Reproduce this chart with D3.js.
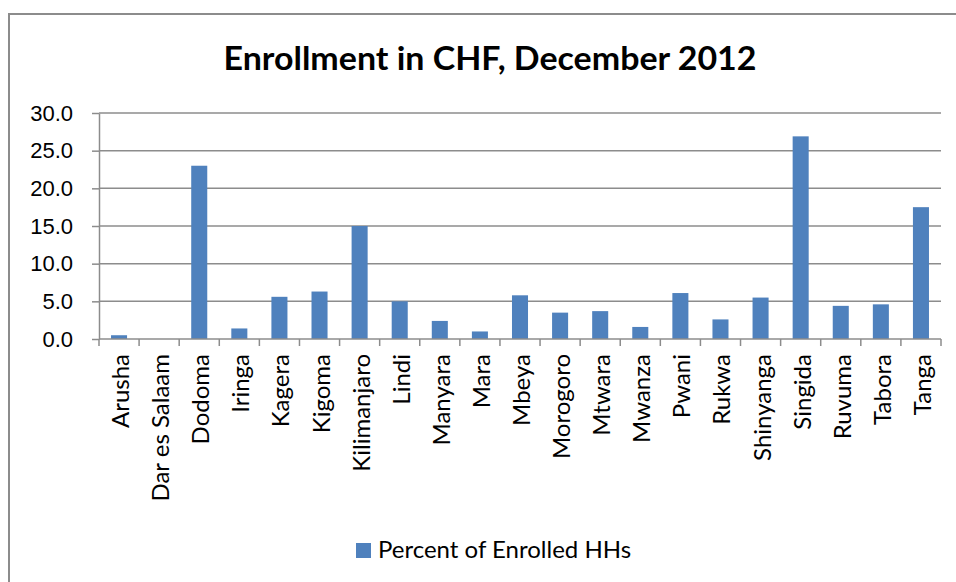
<!DOCTYPE html>
<html>
<head>
    <meta charset="utf-8">
    <title>Enrollment in CHF</title>
    <script src="https://cdn.jsdelivr.net/npm/d3@7"></script>
    <style>
        body { margin: 0; background: #fff; }
        svg { display: block; font-family: Lato, "Open Sans", sans-serif; }
        .grid line { stroke: #8c8c8c; stroke-width: 1.5px; }
        .axis path, .axis line { stroke: #8c8c8c; stroke-width: 1.5px; }
        .axis text { fill: #000; font-size: 22px; }
        .axis text.cat { font-size: 24px; }
    </style>
</head>
<body>
<svg id="chart" width="956" height="582"></svg>
<script>
    // data
    var regions = ["Arusha", "Dar es Salaam", "Dodoma", "Iringa", "Kagera", "Kigoma",
        "Kilimanjaro", "Lindi", "Manyara", "Mara", "Mbeya", "Morogoro", "Mtwara",
        "Mwanza", "Pwani", "Rukwa", "Shinyanga", "Singida", "Ruvuma", "Tabora", "Tanga"];
    var percentEnrolled = [0.5, 0, 23.0, 1.4, 5.6, 6.3, 15.0, 5.0, 2.4, 1.0, 5.8,
        3.5, 3.7, 1.6, 6.1, 2.6, 5.5, 26.9, 4.4, 4.6, 17.5];
    var yTicks = [0, 5, 10, 15, 20, 25, 30];
    var seriesName = "Percent of Enrolled HHs";

    var svg = d3.select("#chart");
    var pLeft = 99, pRight = 941, pTop = 113, pBottom = 339;

    // outer chart border (right and bottom edges fall off the picture)
    svg.append("rect")
        .attr("x", 9).attr("y", 14)
        .attr("width", 960).attr("height", 600)
        .attr("fill", "none")
        .attr("stroke", "#8c8c8c")
        .attr("stroke-width", 2);

    svg.append("text")
        .attr("x", 490).attr("y", 70)
        .attr("text-anchor", "middle")
        .style("font-size", "32px")
        .style("font-weight", "bold")
        .attr("textLength", 533)
        .attr("lengthAdjust", "spacingAndGlyphs")
        .text("Enrollment in CHF, December 2012");

    var x = d3.scaleBand().domain(regions).range([pLeft, pRight]).paddingInner(0.6).paddingOuter(0.3);
    var xOuter = d3.scaleBand().domain(regions).range([pLeft, pRight]);
    var y = d3.scaleLinear().domain([0, 30]).range([pBottom, pTop]);

    // gridlines
    svg.append("g").attr("class", "grid")
        .selectAll("line")
        .data(yTicks.slice(1))
        .enter().append("line")
        .attr("x1", pLeft).attr("x2", pRight)
        .attr("y1", function (d) { return y(d); })
        .attr("y2", function (d) { return y(d); });

    svg.selectAll("rect.bar")
        .data(percentEnrolled)
        .enter().append("rect")
        .attr("class", "bar")
        .attr("x", function (d, i) { return x(regions[i]); })
        .attr("width", x.bandwidth())
        .attr("y", function (d) { return y(d); })
        .attr("height", function (d) { return y(0) - y(d); })
        .attr("fill", "#4f81bd");

    // y axis
    svg.append("g").attr("class", "axis")
        .attr("transform", "translate(" + pLeft + ",0)")
        .call(d3.axisLeft(y).tickValues(yTicks).tickFormat(d3.format(".1f"))
            .tickSize(7).tickSizeOuter(0).tickPadding(19));

    // x axis, ticks on category boundaries
    var xAxis = svg.append("g").attr("class", "axis")
        .attr("transform", "translate(0," + pBottom + ")");
    xAxis.append("line").attr("x1", pLeft).attr("x2", pRight);
    xAxis.selectAll("line.tick")
        .data(regions.concat(["end"]))
        .enter().append("line")
        .attr("x1", function (d, i) { return pLeft + i * xOuter.step(); })
        .attr("x2", function (d, i) { return pLeft + i * xOuter.step(); })
        .attr("y1", 0).attr("y2", 7);
    xAxis.selectAll("text.cat")
        .data(regions)
        .enter().append("text")
        .attr("class", "cat")
        .attr("transform", function (d) {
            return "translate(" + (xOuter(d) + xOuter.bandwidth() / 2 + 10) + ",15) rotate(-90)";
        })
        .attr("text-anchor", "end")
        .text(function (d) { return d; });

    // legend
    var legend = svg.append("g").attr("transform", "translate(356,543)");
    legend.append("rect").attr("width", 15).attr("height", 15).attr("fill", "#4f81bd");
    legend.append("text").attr("x", 22).attr("y", 15)
        .style("font-size", "24px")
        .text(seriesName);
</script>
</body>
</html>
